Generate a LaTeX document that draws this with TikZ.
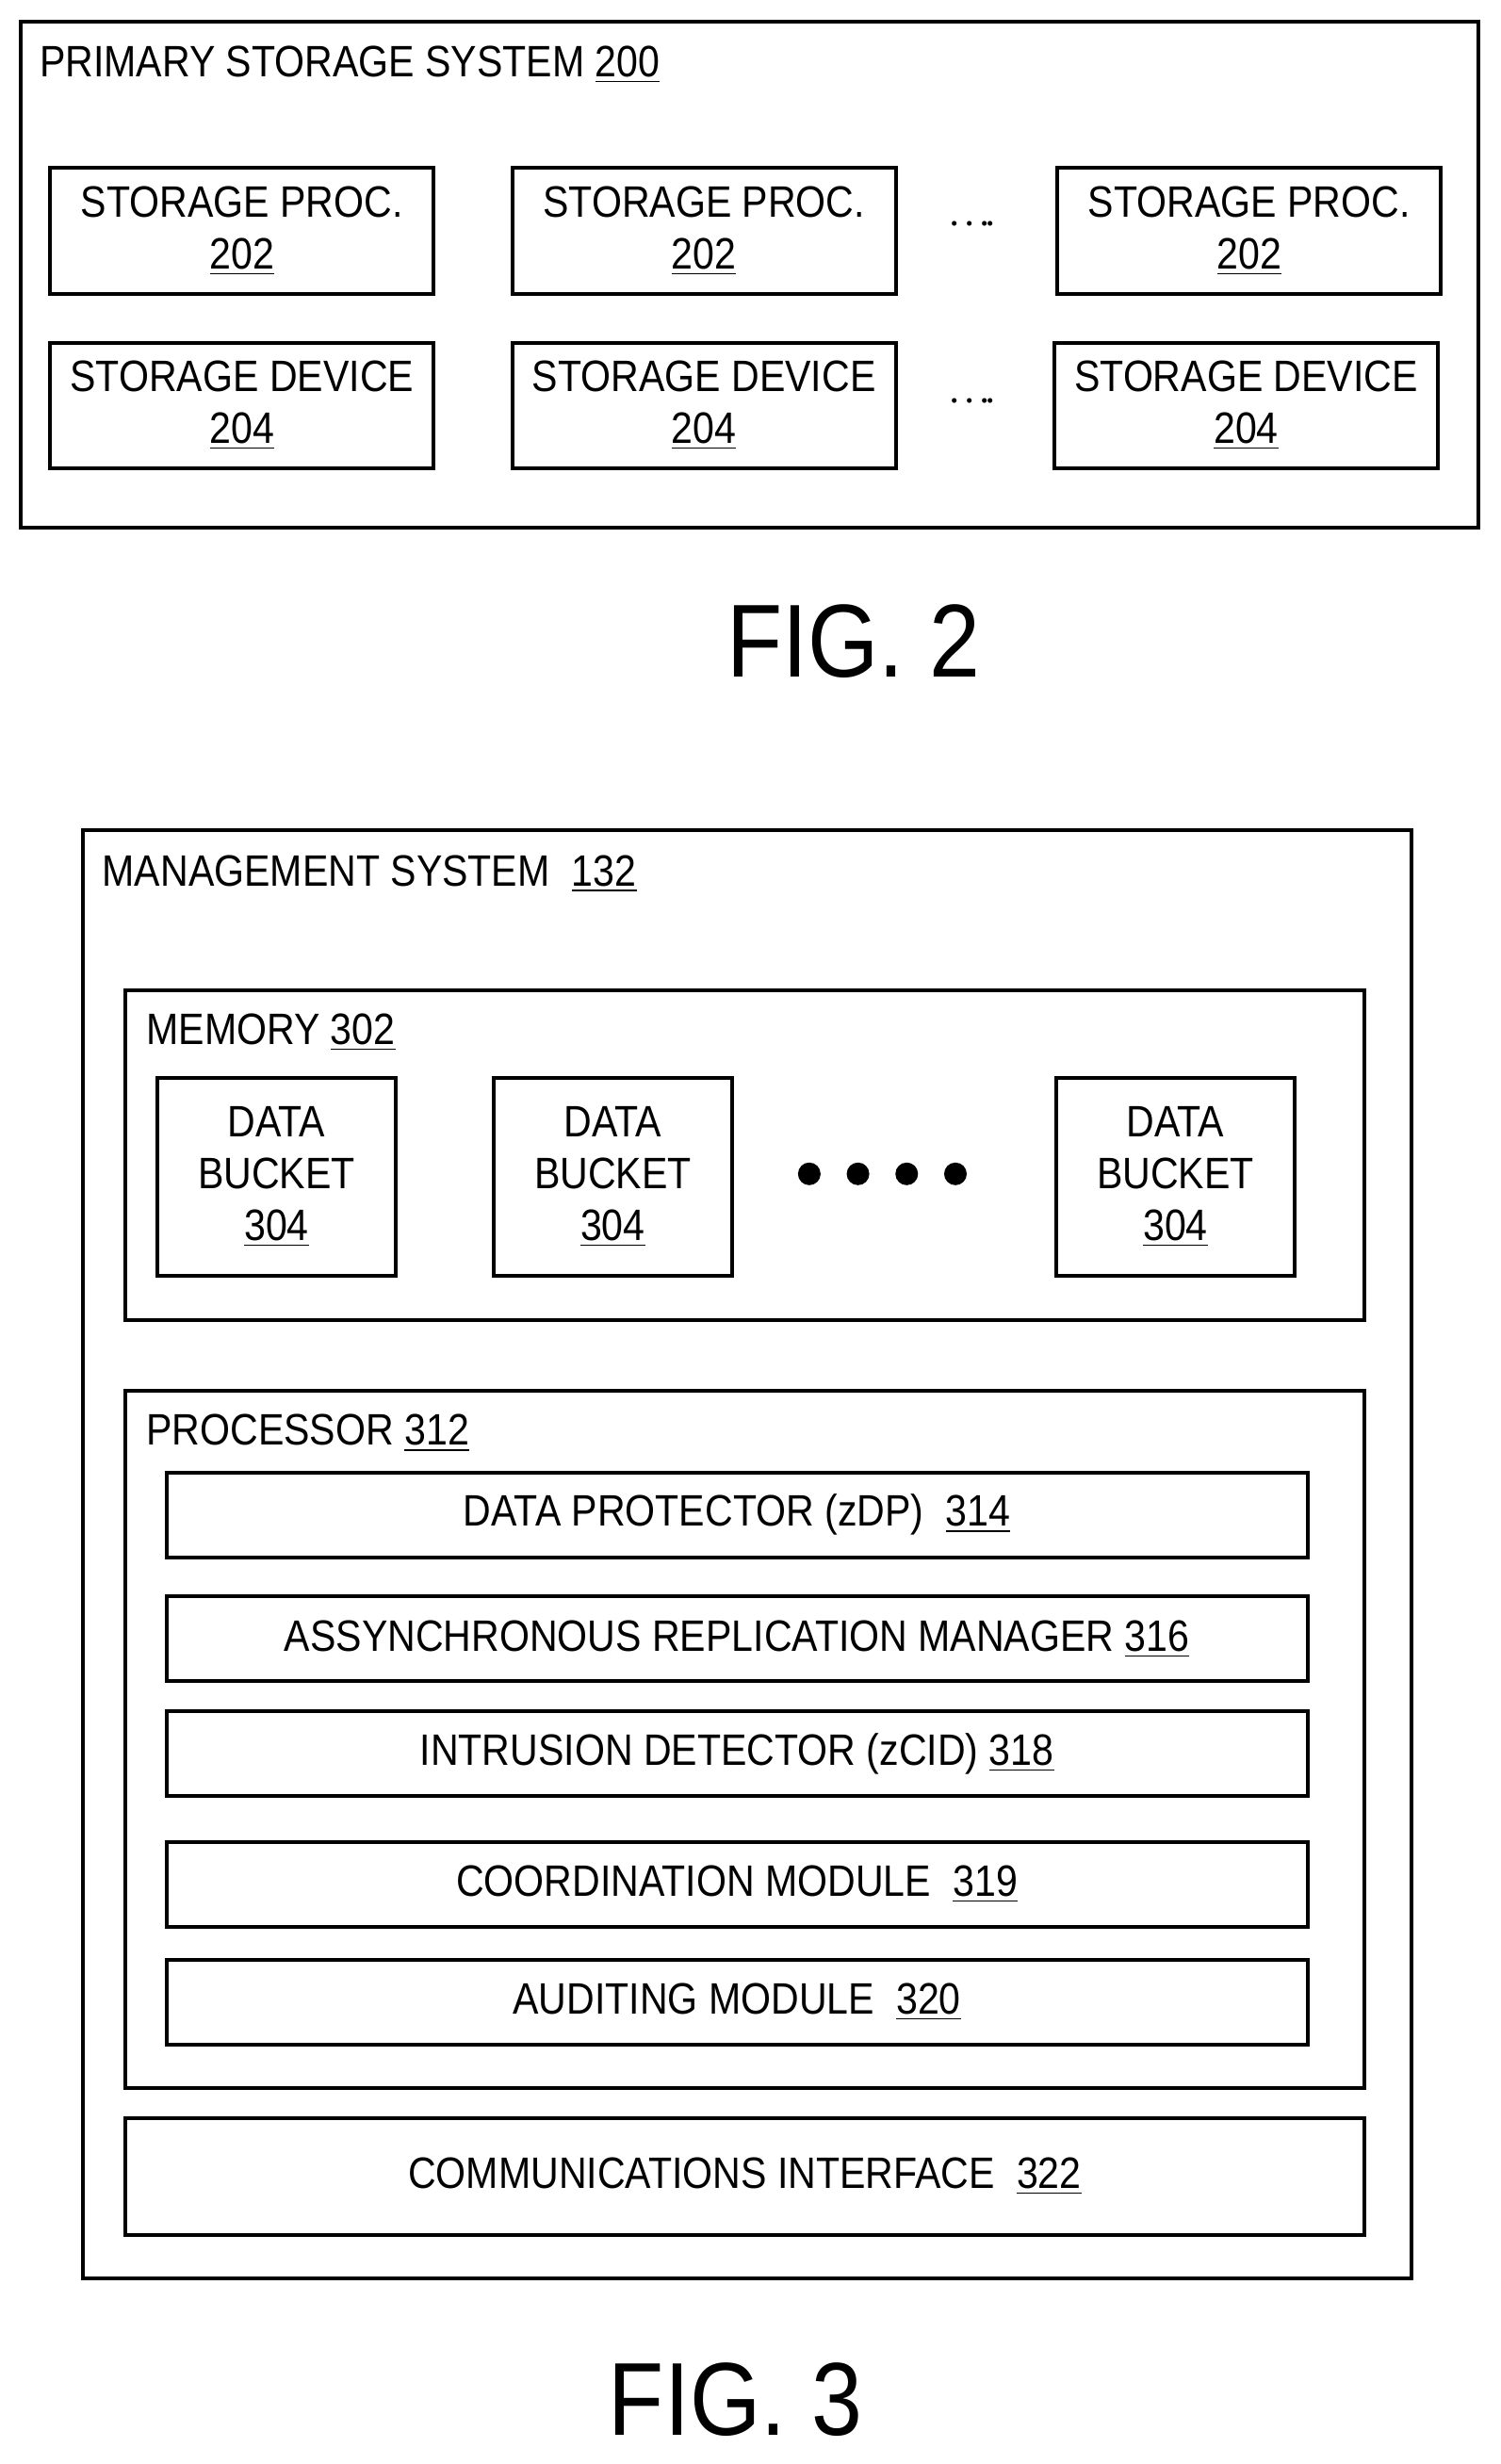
\documentclass[tikz,border=0pt]{standalone}
\usepackage{fontspec}
\setmainfont{Liberation Sans}[FakeStretch=0.88]
\usetikzlibrary{positioning}

\begin{document}
\begin{tikzpicture}[x=0.5pt,y=-0.5pt,line width=1.2pt]
	\tikzstyle{blk}=[draw,rectangle,inner sep=0pt,align=center,
	font=\fontsize{14}{16.5}\selectfont]
	\tikzstyle{lbl}=[anchor=west,inner sep=0pt,font=\fontsize{14}{16}\selectfont]
	\tikzstyle{fig}=[inner sep=0pt,font=\fontsize{33}{36}\selectfont]
	\tikzstyle{bar}=[blk,minimum width=363pt,minimum height=27pt];
\useasboundingbox (0,0) rectangle (955,1568);
% FIG. 2
\node[blk,minimum width=464pt,minimum height=161pt](pss) at (477,175){};
\node[lbl](psst) at (24,41){PRIMARY STORAGE SYSTEM \underline{200}};
\foreach \x/\n in {154/1,448/2,795/3}
	\node[blk,minimum width=122pt,minimum height=40pt](sp\n) at (\x,147){STORAGE PROC.\\\underline{202}};
\foreach \x/\n in {154/1,448/2,793/3}
	\node[blk,minimum width=122pt,minimum height=40pt](sd\n) at (\x,258){STORAGE DEVICE\\\underline{204}};
\node[font=\Large\bfseries](dots1) at (619,143){$\cdot\!\cdot\!\cdot\!\cdot$};
\node[font=\Large\bfseries](dots2) at (619,256){$\cdot\!\cdot\!\cdot\!\cdot$};
\node[fig](fig2) at (543,408){FIG. 2};

% FIG. 3
\node[blk,minimum width=422.5pt,minimum height=461pt](ms) at (475.5,989){};
\node[lbl](mst) at (64,556){MANAGEMENT SYSTEM\enspace\underline{132}};
\node[blk,minimum width=394pt,minimum height=105pt](mem) at (474,735){};
\node[lbl](memt) at (92,657){MEMORY \underline{302}};
\foreach \x/\n in {176/1,390/2,748/3}
	\node[blk,minimum width=76pt,minimum height=63pt](db\n) at (\x,749){DATA\\BUCKET\\\underline{304}};
\foreach \x in {515,546,577,608}
	\fill (\x,747) circle (3.6pt);
\node[blk,minimum width=394pt,minimum height=222pt](proc) at (474,1107){};
\node[lbl](proct) at (92,912){PROCESSOR \underline{312}};
\node[bar](zdp) at (469,964){DATA PROTECTOR (zDP)\enspace\underline{314}};
\node[bar](arm) at (469,1043){ASSYNCHRONOUS REPLICATION MANAGER \underline{316}};
\node[bar](zcid) at (469,1116){INTRUSION DETECTOR (zCID) \underline{318}};
\node[bar](coord) at (469,1199){COORDINATION MODULE\enspace\underline{319}};
\node[bar](aud) at (469,1274){AUDITING MODULE\enspace\underline{320}};
\node[blk,minimum width=394pt,minimum height=37pt](comm) at (474,1385){COMMUNICATIONS INTERFACE\enspace\underline{322}};
\node[fig](fig3) at (468,1527){FIG. 3};
\end{tikzpicture}
\end{document}
